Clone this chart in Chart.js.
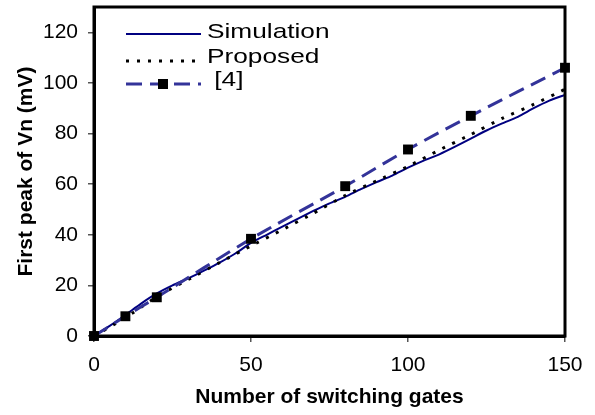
<!DOCTYPE html>
<html>
<head>
<meta charset="utf-8">
<script src="https://cdn.jsdelivr.net/npm/chart.js@4/dist/chart.umd.min.js"></script>
<style>
  html, body { margin: 0; padding: 0; background: #fff; }
  #wrap { width: 595px; height: 415px; }
</style>
</head>
<body>
<div id="wrap"><canvas id="chart" width="595" height="415"></canvas></div>
<script>
// values
const simX = [0, 5, 10, 15, 20, 25, 30, 35, 40, 45, 50, 55, 60, 65, 70, 75, 80, 85, 90, 95, 100, 105, 110, 115, 120, 125, 130, 135, 140, 145, 150];
const simY = [0, 4, 8.3, 12.8, 16.8, 20, 22.8, 25.8, 29, 32.6, 36.8, 40, 43.2, 46.4, 49.5, 52.4, 55, 58, 60.8, 63.4, 66.5, 69.3, 71.8, 74.8, 78, 81.2, 84, 86.6, 90, 93, 95.3];

const propX = [0, 10, 20, 30, 40, 50, 60, 70, 80, 90, 100, 110, 120, 130, 140, 150];
const propY = [0, 7.2, 15.5, 22.3, 29, 35.6, 42, 48.6, 55.5, 61.3, 67, 73.5, 79.6, 86, 91.5, 97.5];

const refX = [0, 10, 20, 50, 80, 100, 120, 150];
const refY = [0, 7.8, 15.3, 38.4, 59.2, 73.7, 87, 106];

const xTicks = [0, 50, 100, 150];
const yTicks = [0, 20, 40, 60, 80, 100, 120];

const FONT = "'Liberation Sans', Arial, sans-serif";

function pts(xs, ys) {
    return xs.map((x, i) => ({ x: x, y: ys[i] }));
}

// no extra room for edge labels, the plot box is fixed
function noEdgePadding(s) {
    s.paddingTop = 0;
    s.paddingBottom = 0;
    s.paddingLeft = 0;
    s.paddingRight = 0;
}

// box around the plot area
const frame = {
    id: 'frame',
    afterDatasetsDraw(chart) {
        const a = chart.chartArea;
        const ctx = chart.ctx;
        ctx.save();
        ctx.strokeStyle = '#000';
        ctx.lineWidth = 3;
        ctx.strokeRect(a.left, a.top, a.right - a.left, a.bottom - a.top);
        ctx.restore();
    }
};

// legend sits inside the plot, top left, text a little stretched like the original
const legendBox = {
    id: 'legendBox',
    afterDraw(chart) {
        const ctx = chart.ctx;
        const rows = [
            { label: 'Simulation', color: '#000080', dash: [], width: 2, y: 34, ty: 32, marker: false },
            { label: 'Proposed', color: '#000', dash: [3, 8], width: 3, y: 61, ty: 57, marker: false },
            { label: ' [4]', color: '#333399', dash: [16, 8], width: 3, y: 84, ty: 80, marker: true }
        ];
        rows.forEach(r => {
            ctx.save();
            ctx.strokeStyle = r.color;
            ctx.lineWidth = r.width;
            ctx.setLineDash(r.dash);
            ctx.beginPath();
            ctx.moveTo(126, r.y);
            ctx.lineTo(201, r.y);
            ctx.stroke();
            if (r.marker) {
                ctx.fillStyle = '#000';
                ctx.fillRect(158, r.y - 5, 10, 10);
            }
            ctx.translate(207, r.ty);
            ctx.scale(1.25, 1);
            ctx.fillStyle = '#000';
            ctx.font = '21px ' + FONT;
            ctx.textBaseline = 'middle';
            ctx.fillText(r.label, 0, 0);
            ctx.restore();
        });
    }
};

new Chart(document.getElementById('chart'), {
    type: 'line',
    data: {
        datasets: [
            {
                label: 'Simulation',
                data: pts(simX, simY),
                borderColor: '#000080',
                borderWidth: 2,
                pointRadius: 0,
                tension: 0.2,
                order: 2
            },
            {
                label: 'Proposed',
                data: pts(propX, propY),
                borderColor: '#000',
                borderWidth: 3,
                borderDash: [3, 8],
                pointRadius: 0,
                tension: 0.2,
                order: 1
            },
            {
                label: '[4]',
                data: pts(refX, refY),
                borderColor: '#333399',
                borderWidth: 3,
                borderDash: [16, 8],
                pointStyle: 'rect',
                pointRadius: 7,
                pointBackgroundColor: '#000',
                pointBorderColor: '#000',
                pointBorderWidth: 0,
                tension: 0.3,
                clip: false,
                order: 0
            }
        ]
    },
    options: {
        responsive: false,
        animation: false,
        layout: { padding: { left: 0, right: 30, top: 5, bottom: 0 } },
        plugins: {
            legend: { display: false },
            tooltip: { enabled: false }
        },
        scales: {
            x: {
                type: 'linear',
                min: 0,
                max: 150,
                afterFit: s => { s.height = 79; noEdgePadding(s); },
                afterBuildTicks: s => { s.ticks = xTicks.map(v => ({ value: v })); },
                border: { display: true, color: '#000', width: 3 },
                grid: { drawOnChartArea: false, drawTicks: true, tickLength: 6, color: '#555', lineWidth: 1.5 },
                ticks: { color: '#000', font: { family: FONT, size: 21 }, padding: 11, maxRotation: 0 },
                title: {
                    display: true,
                    text: 'Number of switching gates',
                    color: '#000',
                    font: { family: FONT, size: 21, weight: 'bold' },
                    padding: { top: 0, bottom: 5 }
                }
            },
            y: {
                min: 0,
                max: 130,
                afterFit: s => { s.width = 94; noEdgePadding(s); },
                afterBuildTicks: s => { s.ticks = yTicks.map(v => ({ value: v })); },
                border: { display: true, color: '#000', width: 3 },
                grid: { drawOnChartArea: false, drawTicks: true, tickLength: 6, color: '#555', lineWidth: 1.5 },
                ticks: { color: '#000', font: { family: FONT, size: 21 }, padding: 10 },
                title: {
                    display: true,
                    text: 'First peak of Vn (mV)',
                    color: '#000',
                    font: { family: FONT, size: 21, weight: 'bold' },
                    padding: { top: 14, bottom: 0 }
                }
            }
        }
    },
    plugins: [frame, legendBox]
});
</script>
</body>
</html>
